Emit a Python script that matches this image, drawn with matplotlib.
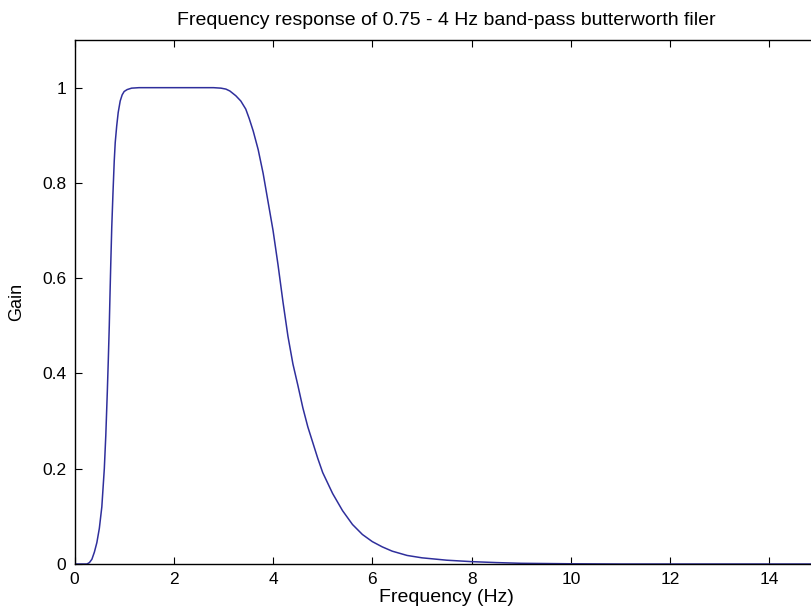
import numpy as np
import matplotlib as mpl
mpl.use('Agg')
import matplotlib.pyplot as plt

plt.rcParams['font.family'] = ['Liberation Sans', 'DejaVu Sans']

# gain (Hz, linear gain)
freq = [0.0, 0.25, 0.3, 0.35, 0.4, 0.45, 0.5, 0.55, 0.6, 0.63, 0.66, 0.68, 0.7,
        0.715, 0.73, 0.75, 0.775, 0.8, 0.82, 0.85, 0.88, 0.92, 0.96, 1.0, 1.06,
        1.15, 1.3, 1.8, 2.4, 2.8, 2.95, 3.05, 3.13, 3.25, 3.35, 3.45, 3.52, 3.6,
        3.7, 3.8, 3.9, 4.0, 4.1, 4.2, 4.3, 4.4, 4.5, 4.6, 4.7, 4.8, 4.9, 5.0,
        5.2, 5.4, 5.6, 5.8, 6.0, 6.2, 6.4, 6.7, 7.0, 7.5, 8.0, 8.5, 9.0, 10.0,
        11.0, 13.0, 15.0]
gain = [0.0, 0.0, 0.003, 0.01, 0.025, 0.045, 0.075, 0.12, 0.2, 0.27, 0.36, 0.427, 0.5,
        0.567, 0.63, 0.707, 0.78, 0.846, 0.885, 0.92, 0.948, 0.972, 0.985, 0.992, 0.996,
        0.999, 1.0, 1.0, 1.0, 1.0, 0.999, 0.997, 0.993, 0.983, 0.972, 0.955, 0.935, 0.909,
        0.87, 0.82, 0.76, 0.70, 0.628, 0.55, 0.478, 0.42, 0.375, 0.328, 0.288, 0.255, 0.222, 0.192,
        0.148, 0.112, 0.083, 0.062, 0.047, 0.036, 0.027, 0.018, 0.013, 0.008, 0.005, 0.003, 0.0015, 0.0005,
        0.0, 0.0, 0.0]

xticks = [0, 2, 4, 6, 8, 10, 12, 14]
yticks = [0, 0.2, 0.4, 0.6, 0.8, 1]
ylabels = ['0', '0.2', '0.4', '0.6', '0.8', '1']

fig = plt.figure(figsize=(8.11, 6.15), dpi=100)
# the reference is cut off just before the right spine
ax = fig.add_axes([0.0919, 0.0829, 0.918, 0.852])

ax.plot(freq, gain, color='#2f2f9c', lw=1.1)

ax.set_xlim(0, 15)
ax.set_ylim(0, 1.1)
ax.set_xticks(xticks)
ax.set_yticks(yticks)
ax.set_yticklabels(ylabels)
ax.tick_params(direction='in', length=5, width=0.8, top=True, right=True,
               labelsize=12.5, pad=6)
for s in ax.spines.values():
    s.set_linewidth(1.0)

ax.set_title('Frequency response of 0.75 - 4 Hz band-pass butterworth filer',
             fontsize=14, pad=11)
ax.set_xlabel('Frequency (Hz)', fontsize=14, labelpad=1)
ax.set_ylabel('Gain', fontsize=13, labelpad=12)

fig.savefig('out.png', dpi=100)
